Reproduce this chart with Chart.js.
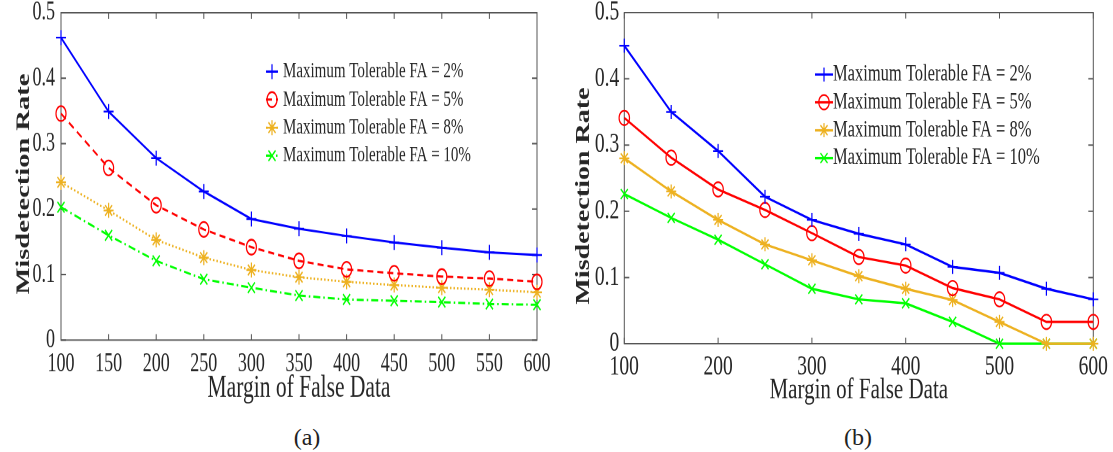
<!DOCTYPE html>
<html>
<head>
<meta charset="utf-8">
<script src="https://cdn.jsdelivr.net/npm/chart.js@4.4.1/dist/chart.umd.min.js"></script>
<style>
    html, body { margin: 0; padding: 0; background: #fff; }
    body { width: 1113px; height: 452px; position: relative; overflow: hidden; font-family: "Liberation Serif", serif; }
    .panel { position: absolute; top: 0; transform-origin: 0 0; }
    #panelA { left: 0; transform: scaleY(1.5); }
    #panelB { left: 556px; transform: scaleY(1.4); }
    .cap { position: absolute; top: 423px; width: 60px; font-size: 24px; line-height: 28px; text-align: center; color: #222; }
</style>
</head>
<body>
<div class="panel" id="panelA"><canvas id="graficaA" width="556" height="274"></canvas></div>
<div class="panel" id="panelB"><canvas id="graficaB" width="557" height="294"></canvas></div>
<div class="cap" style="left:277px">(a)</div>
<div class="cap" style="left:828px">(b)</div>
<script>
// Datos
const margenes = [100, 150, 200, 250, 300, 350, 400, 450, 500, 550, 600];
const ticksXA = [100, 150, 200, 250, 300, 350, 400, 450, 500, 550, 600];
const ticksXB = [100, 200, 300, 400, 500, 600];
const ticksY = [0, 0.1, 0.2, 0.3, 0.4, 0.5];
const leyendas = [
    'Maximum Tolerable FA = 2%',
    'Maximum Tolerable FA = 5%',
    'Maximum Tolerable FA = 8%',
    'Maximum Tolerable FA = 10%'
];

// (a)
const fa2A = [0.462, 0.349, 0.278, 0.227, 0.185, 0.170, 0.159, 0.149, 0.141, 0.134, 0.130];
const fa5A = [0.346, 0.263, 0.206, 0.169, 0.142, 0.121, 0.108, 0.102, 0.097, 0.094, 0.089];
const fa8A = [0.241, 0.198, 0.153, 0.126, 0.107, 0.096, 0.089, 0.084, 0.080, 0.077, 0.073];
const fa10A = [0.203, 0.160, 0.121, 0.093, 0.080, 0.068, 0.062, 0.060, 0.058, 0.055, 0.054];

// (b)
const fa2B = [0.450, 0.350, 0.291, 0.222, 0.187, 0.166, 0.150, 0.116, 0.107, 0.083, 0.067];
const fa5B = [0.341, 0.281, 0.233, 0.202, 0.167, 0.131, 0.118, 0.084, 0.067, 0.033, 0.033];
const fa8B = [0.280, 0.230, 0.187, 0.150, 0.126, 0.102, 0.083, 0.066, 0.033, 0, 0];
const fa10B = [0.226, 0.190, 0.157, 0.120, 0.083, 0.067, 0.061, 0.033, 0, 0, 0];

const colores = ['#0000ff', '#ff0000', '#edb120', '#00ff00'];
const puntos = ['cross', 'circle', 'star', 'crossRot'];
const fuente = '"Liberation Serif", "Times New Roman", serif';
const gris = '#262626';

// Dibujar un marcador a mano (para la leyenda)
function dibujarMarcador(ctx, estilo, x, y, r) {
    const d = r * Math.SQRT1_2;
    ctx.beginPath();
    if (estilo === 'circle') {
        ctx.arc(x, y, r, 0, Math.PI * 2);
    }
    if (estilo === 'cross' || estilo === 'star') {
        ctx.moveTo(x - r, y); ctx.lineTo(x + r, y);
        ctx.moveTo(x, y - r); ctx.lineTo(x, y + r);
    }
    if (estilo === 'crossRot' || estilo === 'star') {
        ctx.moveTo(x - d, y - d); ctx.lineTo(x + d, y + d);
        ctx.moveTo(x - d, y + d); ctx.lineTo(x + d, y - d);
    }
    ctx.stroke();
}

// Marco, marcas interiores, título del eje Y y leyenda
function plugin(cfg) {
    return {
        id: 'marco',
        beforeDatasetsDraw(chart) {
            const { ctx, chartArea: a, scales } = chart;
            ctx.save();
            ctx.strokeStyle = '#555';
            ctx.lineWidth = 1;
            ctx.strokeRect(a.left, a.top, a.right - a.left, a.bottom - a.top);
            ctx.beginPath();
            cfg.ticksX.forEach(v => {
                const px = scales.x.getPixelForValue(v);
                ctx.moveTo(px, a.bottom); ctx.lineTo(px, a.bottom - cfg.marcaV);
                ctx.moveTo(px, a.top); ctx.lineTo(px, a.top + cfg.marcaV);
            });
            ticksY.forEach(v => {
                const py = scales.y.getPixelForValue(v);
                ctx.moveTo(a.left, py); ctx.lineTo(a.left + cfg.marcaH, py);
                ctx.moveTo(a.right, py); ctx.lineTo(a.right - cfg.marcaH, py);
            });
            ctx.stroke();
            ctx.restore();
        },
        afterDraw(chart) {
            const ctx = chart.ctx;
            ctx.save();
            // Título del eje Y
            ctx.translate(cfg.tituloYx, cfg.tituloYy);
            ctx.rotate(-Math.PI / 2);
            ctx.fillStyle = gris;
            ctx.font = 'bold ' + cfg.fuenteTituloY + 'px ' + fuente;
            ctx.textAlign = 'center';
            ctx.textBaseline = 'middle';
            ctx.fillText('Misdetection Rate', 0, 0);
            ctx.restore();

            ctx.save();
            chart.data.datasets.forEach((ds, i) => {
                const y = cfg.leyY[i];
                ctx.strokeStyle = ds.borderColor;
                ctx.lineWidth = ds.borderWidth;
                ctx.setLineDash(ds.borderDash || []);
                ctx.beginPath();
                ctx.moveTo(cfg.leyX - cfg.leyLinea, y);
                ctx.lineTo(cfg.leyX + cfg.leyLinea, y);
                ctx.stroke();
                ctx.setLineDash([]);
                ctx.lineWidth = 1.2;
                dibujarMarcador(ctx, ds.pointStyle, cfg.leyX, y, ds.pointRadius);
                ctx.fillStyle = gris;
                ctx.font = cfg.leyFuente + 'px ' + fuente;
                ctx.textBaseline = 'middle';
                ctx.fillText(ds.label, cfg.leyTexto, y);
            });
            ctx.restore();
        }
    };
}

function crearGrafica(id, series, cfg) {
    const datasets = series.map((valores, i) => ({
        label: leyendas[i],
        data: margenes.map((m, j) => ({ x: m, y: valores[j] })),
        borderColor: colores[i],
        backgroundColor: colores[i],
        borderWidth: cfg.grosor,
        borderDash: cfg.guiones[i],
        pointStyle: puntos[i],
        pointRadius: puntos[i] === 'circle' ? cfg.radioCirculo : 5,
        pointBorderWidth: 1.2,
        pointBorderColor: colores[i],
        pointBackgroundColor: 'rgba(0,0,0,0)',
        tension: 0,
        clip: false
    }));

    new Chart(document.getElementById(id), {
        type: 'line',
        data: { datasets: datasets },
        options: {
            responsive: false,
            animation: false,
            devicePixelRatio: 2,
            layout: { padding: { top: cfg.arriba, right: cfg.derecha, left: 0, bottom: 0 } },
            plugins: { legend: { display: false }, tooltip: { enabled: false } },
            scales: {
                x: {
                    type: 'linear', min: 100, max: 600,
                    grid: { display: false, drawTicks: false },
                    border: { display: false },
                    afterBuildTicks: s => { s.ticks = cfg.ticksX.map(v => ({ value: v })); },
                    afterFit: s => { s.height = cfg.altoX; s.paddingLeft = 0; s.paddingRight = 0; },
                    ticks: { autoSkip: false, maxRotation: 0, padding: cfg.padX, color: gris,
                             font: { family: fuente, size: cfg.fuenteTick } },
                    title: { display: true, text: 'Margin of False Data', color: gris,
                             font: { family: fuente, size: cfg.fuenteTitulo },
                             padding: { top: 0, bottom: cfg.padTituloX } }
                },
                y: {
                    min: 0, max: 0.5,
                    grid: { display: false, drawTicks: false },
                    border: { display: false },
                    afterBuildTicks: s => { s.ticks = ticksY.map(v => ({ value: v })); },
                    afterFit: s => { s.width = cfg.anchoY; s.paddingTop = 0; s.paddingBottom = 0; },
                    ticks: { autoSkip: false, padding: cfg.padY, color: gris,
                             font: { family: fuente, size: cfg.fuenteTick },
                             callback: v => (v === 0 ? '0' : v.toFixed(1)) }
                }
            }
        },
        plugins: [plugin(cfg)]
    });
}

crearGrafica('graficaA', [fa2A, fa5A, fa8A, fa10A], {
    ticksX: ticksXA,
    guiones: [[], [6, 4], [1.5, 2], [7, 3, 1.5, 3]],
    grosor: 1.5, radioCirculo: 5,
    arriba: 8.5, derecha: 19, anchoY: 61, altoX: 47.3,
    padX: 5.5, padY: 6, fuenteTick: 18, fuenteTitulo: 21.5, padTituloX: 2,
    fuenteTituloY: 19, tituloYx: 24, tituloYy: 122.7,
    marcaV: 4, marcaH: 5,
    leyX: 272, leyTexto: 283, leyLinea: 6, leyFuente: 15,
    leyY: [47.7, 66.4, 85.1, 103.8]
});

crearGrafica('graficaB', [fa2B, fa5B, fa8B, fa10B], {
    ticksX: ticksXB,
    guiones: [[], [], [], []],
    grosor: 1.7, radioCirculo: 5.2,
    arriba: 9, derecha: 19.7, anchoY: 68.3, altoX: 48.5,
    padX: 5, padY: 5, fuenteTick: 19.5, fuenteTitulo: 21, padTituloX: 2.5,
    fuenteTituloY: 20, tituloYx: 28, tituloYy: 140,
    marcaV: 4.3, marcaH: 5,
    leyX: 268, leyTexto: 277, leyLinea: 9, leyFuente: 16.5,
    leyY: [53.2, 73, 93, 112.9]
});
</script>
</body>
</html>
